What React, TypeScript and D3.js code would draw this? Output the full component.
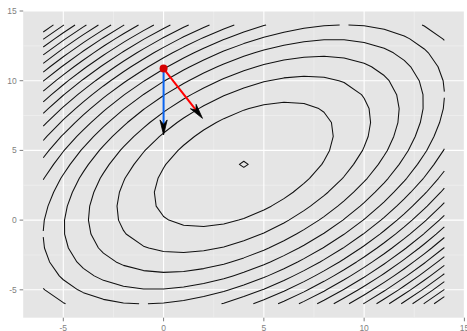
import React from "react";
import * as d3 from "d3";

// ---- data ----
const X_DOMAIN = [-7, 15];
const Y_DOMAIN = [-7, 15];
const MAJOR_TICKS = [-5, 0, 5, 10, 15];
const MINOR_TICKS = [-2.5, 2.5, 7.5, 12.5];
const TICK_LABELS = ["-5", "0", "5", "10", "15"];

// contour field: quadratic bowl sampled on a 1-unit grid
const GRID_X = [-6, -5, -4, -3, -2, -1, 0, 1, 2, 3, 4, 5, 6, 7, 8, 9, 10, 11, 12, 13, 14];
const GRID_Y = [-6, -5, -4, -3, -2, -1, 0, 1, 2, 3, 4, 5, 6, 7, 8, 9, 10, 11, 12, 13, 14];
const CENTER = [4, 4];
const COEF_XX = 1;
const COEF_XY = -1;
const COEF_YY = 1;
const LEVELS = [
  0.22, 15.22, 30.22, 45.22, 60.22, 75.22, 90.22, 105.22, 120.22, 135.22,
  150.22, 165.22, 180.22, 195.22, 210.22, 225.22, 240.22, 255.22, 270.22, 285.22,
];

// arrows
const START_POINT = [0, 10.87];
const BLUE_TIP = [0, 6.11];
const RED_TIP = [1.94, 7.3];

const W = 467;
const H = 331;

const xScale = d3.scaleLinear().domain(X_DOMAIN).range([23.2, 464.4]);
const yScale = d3.scaleLinear().domain(Y_DOMAIN).range([317.7, 11]);

function field(x: number, y: number) {
  const u = x - CENTER[0];
  const v = y - CENTER[1];
  return COEF_XX * u * u + COEF_XY * u * v + COEF_YY * v * v;
}

type Pt = [number, number];

function isolines(level: number): Pt[][] {
  const nx = GRID_X.length;
  const ny = GRID_Y.length;
  const z: number[][] = GRID_Y.map((y) => GRID_X.map((x) => field(x, y)));
  const pts = new Map<string, Pt>();
  const segs: [string, string][] = [];
  const hKey = (i: number, j: number) => `h${i},${j}`;
  const vKey = (i: number, j: number) => `v${i},${j}`;
  const hPt = (i: number, j: number): Pt | null => {
    const a = z[j][i], b = z[j][i + 1];
    if ((a > level) === (b > level)) return null;
    const t = (level - a) / (b - a);
    return [GRID_X[i] + t * (GRID_X[i + 1] - GRID_X[i]), GRID_Y[j]];
  };
  const vPt = (i: number, j: number): Pt | null => {
    const a = z[j][i], b = z[j + 1][i];
    if ((a > level) === (b > level)) return null;
    const t = (level - a) / (b - a);
    return [GRID_X[i], GRID_Y[j] + t * (GRID_Y[j + 1] - GRID_Y[j])];
  };
  for (let j = 0; j < ny - 1; j++) {
    for (let i = 0; i < nx - 1; i++) {
      const cand: [string, Pt | null][] = [
        [hKey(i, j), hPt(i, j)],
        [vKey(i + 1, j), vPt(i + 1, j)],
        [hKey(i, j + 1), hPt(i, j + 1)],
        [vKey(i, j), vPt(i, j)],
      ];
      const hits = cand.filter((c) => c[1] !== null) as [string, Pt][];
      hits.forEach(([k, p]) => pts.set(k, p));
      if (hits.length === 2) segs.push([hits[0][0], hits[1][0]]);
      else if (hits.length === 4) {
        const c = (z[j][i] + z[j][i + 1] + z[j + 1][i] + z[j + 1][i + 1]) / 4;
        if ((c > level) === (z[j][i] > level)) {
          segs.push([hits[0][0], hits[1][0]]);
          segs.push([hits[2][0], hits[3][0]]);
        } else {
          segs.push([hits[0][0], hits[3][0]]);
          segs.push([hits[1][0], hits[2][0]]);
        }
      }
    }
  }
  // chain segments
  const byKey = new Map<string, number[]>();
  segs.forEach((s, idx) => {
    s.forEach((k) => {
      if (!byKey.has(k)) byKey.set(k, []);
      byKey.get(k)!.push(idx);
    });
  });
  const used = new Array(segs.length).fill(false);
  const lines: Pt[][] = [];
  for (let s = 0; s < segs.length; s++) {
    if (used[s]) continue;
    used[s] = true;
    const chain = [segs[s][0], segs[s][1]];
    const extend = (atEnd: boolean) => {
      for (;;) {
        const k = atEnd ? chain[chain.length - 1] : chain[0];
        const next = (byKey.get(k) || []).find((n) => !used[n]);
        if (next === undefined) break;
        used[next] = true;
        const other = segs[next][0] === k ? segs[next][1] : segs[next][0];
        if (atEnd) chain.push(other);
        else chain.unshift(other);
      }
    };
    extend(true);
    extend(false);
    lines.push(chain.map((k) => pts.get(k)!));
  }
  return lines;
}

const lineGen = d3
  .line<Pt>()
  .x((d) => xScale(d[0]))
  .y((d) => yScale(d[1]));

function Arrow({ from, to, color }: { from: number[]; to: number[]; color: string }) {
  const x0 = xScale(from[0]), y0 = yScale(from[1]);
  const x1 = xScale(to[0]), y1 = yScale(to[1]);
  const len = Math.hypot(x1 - x0, y1 - y0);
  const dx = (x1 - x0) / len, dy = (y1 - y0) / len;
  const nx = -dy, ny = dx;
  const L = 15, hw = 3.6, notch = 10.5;
  const head = d3.path();
  head.moveTo(x1, y1);
  head.lineTo(x1 - dx * L + nx * hw, y1 - dy * L + ny * hw);
  head.lineTo(x1 - dx * notch, y1 - dy * notch);
  head.lineTo(x1 - dx * L - nx * hw, y1 - dy * L - ny * hw);
  head.closePath();
  return (
    <g>
      <line
        x1={x0}
        y1={y0}
        x2={x1 - dx * notch}
        y2={y1 - dy * notch}
        stroke={color}
        strokeWidth={2}
      />
      <path d={head.toString()} fill="#000" stroke="#000" strokeWidth={0.8} strokeLinejoin="miter" />
    </g>
  );
}

export default function App() {
  React.useEffect(() => {
    document.body.style.margin = "0";
  }, []);
  const [px0, px1] = xScale.range();
  const [py0, py1] = yScale.range();
  const contourLines = LEVELS.map((lv) => isolines(lv));
  return (
    <svg
      width={W}
      height={H}
      style={{ position: "absolute", left: 0, top: 0, background: "#fff" }}
      fontFamily="'Liberation Sans', Arial, sans-serif"
    >
      <rect x={px0} y={py1} width={px1 - px0} height={py0 - py1} fill="#E5E5E5" />
      {MINOR_TICKS.map((t) => (
        <g key={"mn" + t}>
          <line x1={xScale(t)} x2={xScale(t)} y1={py1} y2={py0} stroke="#F2F2F2" strokeWidth={0.6} />
          <line x1={px0} x2={px1} y1={yScale(t)} y2={yScale(t)} stroke="#F2F2F2" strokeWidth={0.6} />
        </g>
      ))}
      {MAJOR_TICKS.map((t) => (
        <g key={"mj" + t}>
          <line x1={xScale(t)} x2={xScale(t)} y1={py1} y2={py0} stroke="#fff" strokeWidth={1.1} />
          <line x1={px0} x2={px1} y1={yScale(t)} y2={yScale(t)} stroke="#fff" strokeWidth={1.1} />
        </g>
      ))}
      <g fill="none" stroke="#111" strokeWidth={1.05} strokeLinejoin="round">
        {contourLines.map((ls, li) =>
          ls.map((pl, pi) => <path key={li + "-" + pi} d={lineGen(pl) || ""} />)
        )}
      </g>
      <Arrow from={START_POINT} to={BLUE_TIP} color="#0A64F0" />
      <Arrow from={START_POINT} to={RED_TIP} color="#FF0000" />
      <circle cx={xScale(START_POINT[0])} cy={yScale(START_POINT[1])} r={4} fill="#D40000" />
      {/* axes */}
      {MAJOR_TICKS.map((t, i) => (
        <g key={"ty" + t}>
          <line x1={px0 - 3.6} x2={px0} y1={yScale(t)} y2={yScale(t)} stroke="#7F7F7F" strokeWidth={1} />
          <text
            x={px0 - 6.4}
            y={yScale(t)}
            dy="0.35em"
            textAnchor="end"
            fontSize={8.5}
            fill="#7F7F7F"
          >
            {TICK_LABELS[i]}
          </text>
        </g>
      ))}
      {MAJOR_TICKS.map((t, i) => (
        <g key={"tx" + t}>
          <line x1={xScale(t)} x2={xScale(t)} y1={py0} y2={py0 + 3.6} stroke="#7F7F7F" strokeWidth={1} />
          <text x={xScale(t)} y={py0 + 13} textAnchor="middle" fontSize={8.5} fill="#7F7F7F">
            {TICK_LABELS[i]}
          </text>
        </g>
      ))}
    </svg>
  );
}
